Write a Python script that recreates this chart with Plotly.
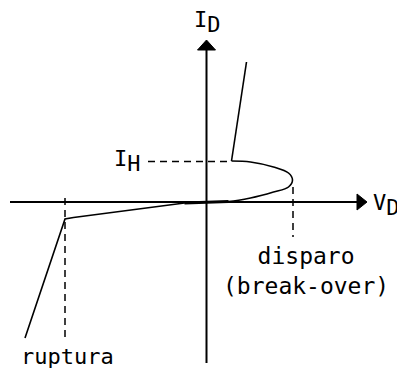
import plotly.graph_objects as go

# Characteristic curve of an SCR / thyristor (arbitrary units, origin at axes crossing)
# Forward blocking branch up to break-over, then back to holding current, then conduction
fwd_v = [0, 22, 44, 67, 82, 86, 82, 67, 44, 25]
fwd_i = [0, 0.5, 4, 10, 15, 22, 29, 35, 40, 41]
on_v = [25, 40]
on_i = [41, 140]
# Reverse blocking branch and avalanche (ruptura)
rev_v = [0, -22, -133, -141.5, -181.5]
rev_i = [0, -1, -15.5, -17, -136]

# Reference levels
v_breakover = 86.5
i_holding = 40.5
v_rupture = -141.5

# Axes extents
x_min, x_max = -196.5, 160.5
y_min, y_max = -161, 162

fig = go.Figure()
black = "#000000"

# axes
fig.add_trace(go.Scatter(x=[x_min, x_max - 6], y=[0, 0], mode="lines",
                         line=dict(color=black, width=2), hoverinfo="skip"))
fig.add_trace(go.Scatter(x=[0, 0], y=[y_min, y_max - 6], mode="lines",
                         line=dict(color=black, width=2), hoverinfo="skip"))
# arrow heads
ah_len, ah_half = 10, 8
fig.add_trace(go.Scatter(x=[x_max, x_max - ah_len, x_max - ah_len, x_max],
                         y=[0, ah_half, -ah_half, 0], fill="toself", mode="lines",
                         fillcolor=black, line=dict(color=black, width=1), hoverinfo="skip"))
fig.add_trace(go.Scatter(x=[0, ah_half + 1, -ah_half - 1, 0],
                         y=[y_max, y_max - ah_len, y_max - ah_len, y_max], fill="toself", mode="lines",
                         fillcolor=black, line=dict(color=black, width=1), hoverinfo="skip"))

# dashed guides
dash = dict(color=black, width=1.5, dash="7px,5px")
fig.add_trace(go.Scatter(x=[-58.5, on_v[0]], y=[i_holding, i_holding], mode="lines",
                         line=dash, hoverinfo="skip"))
fig.add_trace(go.Scatter(x=[v_breakover, v_breakover], y=[15, -35], mode="lines",
                         line=dash, hoverinfo="skip"))
fig.add_trace(go.Scatter(x=[v_rupture, v_rupture], y=[4, -138], mode="lines",
                         line=dash, hoverinfo="skip"))

# curves
fig.add_trace(go.Scatter(x=fwd_v, y=fwd_i, mode="lines", line=dict(color=black, width=1.6, shape="spline"),
                         hoverinfo="skip"))
fig.add_trace(go.Scatter(x=on_v, y=on_i, mode="lines", line=dict(color=black, width=1.6),
                         hoverinfo="skip"))
fig.add_trace(go.Scatter(x=rev_v, y=rev_i, mode="lines", line=dict(color=black, width=1.6),
                         hoverinfo="skip"))
# thick part near origin
fig.add_trace(go.Scatter(x=[-22, 0, 22], y=[-1, 0, 0.5], mode="lines", line=dict(color=black, width=3),
                         hoverinfo="skip"))

FONT = dict(family="DejaVu Sans Mono", size=22, color=black)
SUB = '<span style="font-size:22px">%s</span>'

def label(text, x, y, xanchor="center", yanchor="middle", size=22):
    fig.add_annotation(x=x, y=y, text=text, showarrow=False, xanchor=xanchor, yanchor=yanchor,
                       font=dict(FONT, size=size), xref="x", yref="y")

label("I<sub>" + SUB % "D" + "</sub>", -15, 180, xanchor="left")
label("V<sub>" + SUB % "D" + "</sub>", 164.5, -3, xanchor="left")
label("I<sub>" + SUB % "H" + "</sub>", -63.5, 41, xanchor="right")
label("disparo<br>(break-over)", 99.5, -69, size=23)
label("ruptura", -139.5, -154)

# page body has an 8px margin, so the figure is drawn 8px in from the top-left
fig.update_layout(
    width=397, height=362, margin=dict(l=0, r=0, t=0, b=0),
    paper_bgcolor="white", plot_bgcolor="white", showlegend=False,
    xaxis=dict(range=[-198.5, 198.5], visible=False, fixedrange=True),
    yaxis=dict(range=[-168, 194], visible=False, fixedrange=True),
)
fig.write_html("out.html", config=dict(displayModeBar=False))
